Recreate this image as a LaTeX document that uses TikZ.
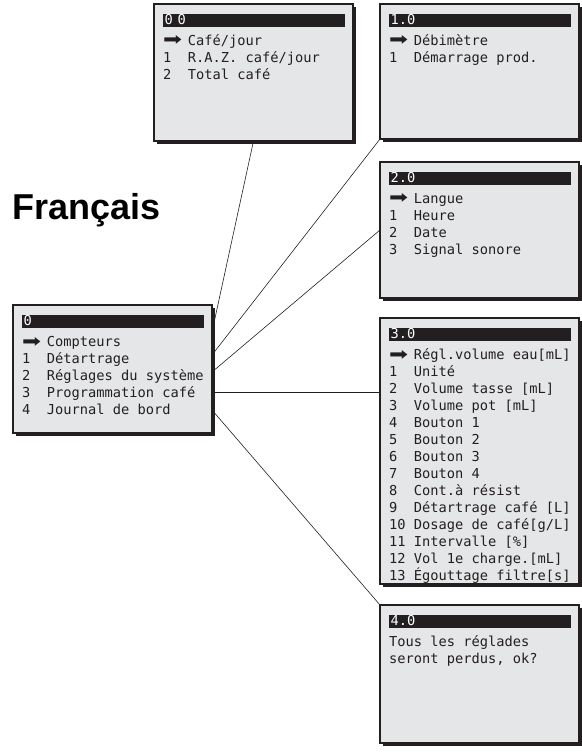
\documentclass[tikz,border=0pt]{standalone}
\usepackage{fontspec}
\setmainfont{Liberation Sans}
\newfontfamily\lcdfont{DejaVu Sans Mono}
\newfontfamily\symfont{DejaVu Sans}
\usetikzlibrary{calc,shadows}
\definecolor{lcdgray}{RGB}{229,230,232}
\definecolor{lcdink}{RGB}{35,31,32}
\newcommand{\lcdarrow}{\makebox[24.75pt][l]{\raisebox{-0.5pt}{\resizebox{19pt}{10pt}{\symfont ➡}}}}
\tikzstyle{screen} = [rectangle, anchor=north west,
minimum width=199pt,
inner sep=0pt, outer sep=0pt,
draw=lcdink, line width=1.2pt,
fill=lcdgray,
drop shadow={shadow xshift=3pt, shadow yshift=-3pt, fill=lcdink, opacity=1}]
\tikzstyle{header} = [rectangle, anchor=north west,
text width=179pt, align=left,
inner xsep=1.5pt, inner ysep=0pt,
text height=10.5pt, text depth=2pt,
fill=lcdink, text=white,
font=\lcdfont\fontsize{13.7}{17}\selectfont]
\tikzstyle{lcdline} = [anchor=base west, inner sep=0pt,
text=lcdink,
font=\lcdfont\fontsize{13.7}{17}\selectfont]
\tikzstyle{link} = [line width=0.6pt, draw=lcdink]

\begin{document}
\begin{tikzpicture}[x=1pt, y=-1pt]
\useasboundingbox (0,0) rectangle (581,754);
\node (title) [anchor=base west, inner sep=0pt, font=\bfseries\fontsize{36}{40}\selectfont] at (12.5,219) {Français};

\node (m00) [screen, minimum height=137pt] at (154,4) {};
\node (m10) [screen, minimum height=135pt] at (380,4) {};
\node (m20) [screen, minimum height=136pt] at (380,162) {};
\node (m0) [screen, minimum height=128pt] at (13,305) {};
\node (m30) [screen, minimum height=266pt] at (380,318) {};
\node (m40) [screen, minimum height=138pt] at (380,605) {};

\node (m00h) [header] at ($(m00.north west)+(9,10)$) {0~0};
\node (m10h) [header] at ($(m10.north west)+(9,10)$) {1.0};
\node (m20h) [header] at ($(m20.north west)+(9,10)$) {2.0};
\node (m0h) [header] at ($(m0.north west)+(9,10)$) {0};
\node (m30h) [header] at ($(m30.north west)+(9,10)$) {3.0};
\node (m40h) [header] at ($(m40.north west)+(9,10)$) {4.0};

\foreach \txt [count=\i] in {{\lcdarrow Café/jour}, {1~~R.A.Z. café/jour}, {2~~Total café}}
  \node (m00-\i) [lcdline] at ($(m00.north west)+(9,24.5+17*\i)$) {\txt};
\foreach \txt [count=\i] in {{\lcdarrow Débimètre}, {1~~Démarrage prod.}}
  \node (m10-\i) [lcdline] at ($(m10.north west)+(9,24.5+17*\i)$) {\txt};
\foreach \txt [count=\i] in {{\lcdarrow Langue}, {1~~Heure}, {2~~Date}, {3~~Signal sonore}}
  \node (m20-\i) [lcdline] at ($(m20.north west)+(9,24.5+17*\i)$) {\txt};
\foreach \txt [count=\i] in {{\lcdarrow Compteurs}, {1~~Détartrage}, {2~~Réglages du système}, {3~~Programmation café}, {4~~Journal de bord}}
  \node (m0-\i) [lcdline] at ($(m0.north west)+(9,24.5+17*\i)$) {\txt};
\foreach \txt [count=\i] in {{\lcdarrow Régl.volume eau[mL]}, {1~~Unité}, {2~~Volume tasse [mL]}, {3~~Volume pot [mL]}, {4~~Bouton 1}, {5~~Bouton 2}, {6~~Bouton 3}, {7~~Bouton 4}, {8~~Cont.à résist}, {9~~Détartrage café [L]}, {10 Dosage de café[g/L]}, {11 Intervalle [\%]}, {12 Vol 1e charge.[mL]}, {13 Égouttage filtre[s]}}
  \node (m30-\i) [lcdline] at ($(m30.north west)+(9,24.5+17*\i)$) {\txt};
\foreach \txt [count=\i] in {{Tous les réglades}, {seront perdus, ok?}}
  \node (m40-\i) [lcdline] at ($(m40.north west)+(9,24.5+17*\i)$) {\txt};

\draw [link] ($(m0.north east)+(0,27)$) -- (m00.south);
\draw [link] ($(m0.north east)+(0,50)$) -- (m10.south west);
\draw [link] ($(m0.north east)+(0,67)$) -- ($(m20.north west)+(0,68)$);
\draw [link] ($(m0.north east)+(0,87)$) -- ($(m30.north west)+(0,74)$);
\draw [link] ($(m0.north east)+(0,105)$) -- (m40.north west);
\end{tikzpicture}
\end{document}
